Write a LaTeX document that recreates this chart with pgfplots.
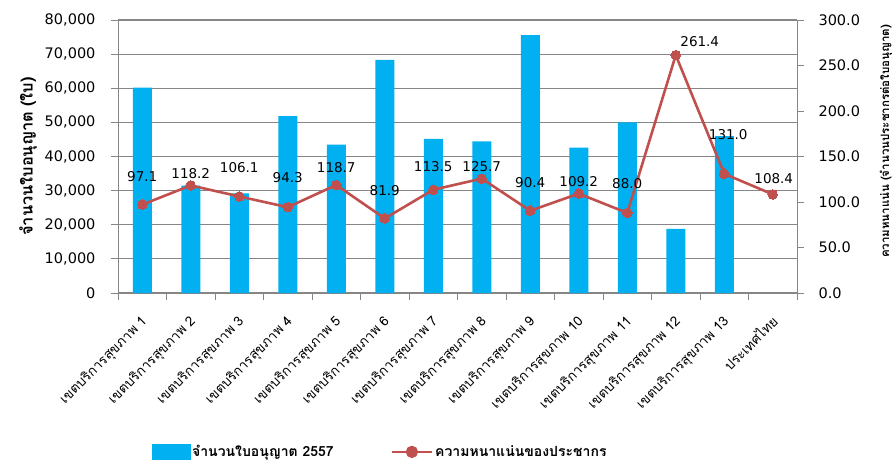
\documentclass[border=0pt]{standalone}
\usepackage{pgfplots}
\pgfplotsset{compat=1.18}
\usepackage{pgfplotstable}
\usepackage{fontspec}
\setmainfont{DejaVu Sans}
\newfontfamily\thai[Script=Thai]{Loma}
\definecolor{barc}{HTML}{00B0F0}
\definecolor{linec}{HTML}{C0504D}
\definecolor{axc}{HTML}{868686}

\pgfplotstableread{
x lic
0 60200
1 31500
2 29200
3 51850
4 43450
5 68300
6 45200
7 44450
8 75550
9 42600
10 50000
11 18800
12 46000
}\bars

\pgfplotstableread{
x dens dx dy
0 97.1 0 28
1 118.2 0 12
2 106.1 0 29
3 94.3 0 30
4 118.7 0 17
5 81.9 0 28
6 113.5 0 23
7 125.7 0 12
8 90.4 0 28
9 109.2 0 12
10 88.0 0 29
11 261.4 24 14
12 131.0 4 39
13 108.4 1 16
}\dens

\begin{document}
\begin{tikzpicture}
\begin{axis}[
  scale only axis, width=679pt, height=273pt,
  at={(118pt,174pt)}, anchor=south west,
  xmin=-0.5, xmax=13.5, ymin=0, ymax=80000,
  axis y line*=left, axis x line*=bottom,
  axis line style={axc, line width=1pt},
  tick style={axc, line width=1pt},
  tick align=outside, major tick length=7pt,
  ymajorgrids, grid style={axc, line width=1.1pt},
  ytick={0,10000,...,80000},
  scaled y ticks=false,
  yticklabel style={font=\fontsize{14.5}{16}\selectfont, xshift=-12pt, /pgf/number format/.cd, 1000 sep={,}, assume math mode=true},
  xtick={-0.5,0.5,...,13.5},
  x tick label as interval,
  xticklabels={เขตบริการสุขภาพ 1,เขตบริการสุขภาพ 2,เขตบริการสุขภาพ 3,เขตบริการสุขภาพ 4,เขตบริการสุขภาพ 5,เขตบริการสุขภาพ 6,เขตบริการสุขภาพ 7,เขตบริการสุขภาพ 8,เขตบริการสุขภาพ 9,เขตบริการสุขภาพ 10,เขตบริการสุขภาพ 11,เขตบริการสุขภาพ 12,เขตบริการสุขภาพ 13,ประเทศไทย},
  xticklabel style={font=\thai\fontsize{13.5}{15}\selectfont, rotate=45, anchor=north east, inner sep=1pt, xshift=-10.8pt, yshift=-7.3pt},
  ylabel={\thai\bfseries จำนวนใบอนุญาต (ใบ)},
  ylabel style={at={(axis description cs:-0.1325,0.5)}, anchor=center, font=\fontsize{16.4}{18}\selectfont},
]
\addplot[ybar, bar width=19pt, fill=barc, draw=none] table[x=x, y=lic] {\bars};
\end{axis}
\begin{axis}[
  scale only axis, width=679pt, height=273pt,
  at={(118pt,174pt)}, anchor=south west,
  xmin=-0.5, xmax=13.5, ymin=0, ymax=300,
  axis y line*=right, axis x line=none,
  axis line style={axc, line width=1pt},
  tick style={axc, line width=1pt},
  tick align=outside, major tick length=7pt,
  ytick={0,50,...,300},
  yticklabel style={font=\fontsize{14.5}{16}\selectfont, xshift=11pt, /pgf/number format/.cd, fixed, fixed zerofill, precision=1, assume math mode=true},
  ylabel={\thai\bfseries ความหนาแน่น (จำนวนประชากรต่อใบอนุญาต)},
  ylabel style={at={(axis description cs:1.131,0.555)}, anchor=center, font=\fontsize{11.5}{13}\selectfont},
  legend columns=2,
  legend style={at={(axis description cs:0.386,-0.582)}, anchor=center, draw=none, fill=none,
    font=\thai\bfseries\fontsize{14}{16}\selectfont,
    /tikz/every even column/.append style={column sep=55pt}},
]
\addlegendimage{legend image code/.code={\fill[barc] (0pt,-7pt) rectangle (38pt,8pt);}}
\addlegendentry{จำนวนใบอนุญาต 2557}
\addplot[linec, line width=2.6pt, mark=*, mark size=4.8pt, mark options={fill=linec, draw=linec, line width=0pt},
  visualization depends on={\thisrow{dx}\as\dx},
  visualization depends on={\thisrow{dy}\as\dy},
  nodes near coords={\pgfmathprintnumber[fixed, fixed zerofill, precision=1, assume math mode=true]{\pgfplotspointmeta}},
  point meta=y,
  nodes near coords style={anchor=center, xshift=\dx pt, yshift=\dy pt, black, font=\fontsize{13.5}{15}\selectfont},
  legend image code/.code={\draw[linec, line width=2.6pt] (0pt,0pt) -- (40pt,0pt); \fill[linec] (20pt,0pt) circle (4.8pt);}
] table[x=x, y=dens] {\dens};
\addlegendentry{ความหนาแน่นของประชากร}
\end{axis}
\pgfresetboundingbox
\useasboundingbox (0,0) rectangle (896pt,467pt);
\end{tikzpicture}
\end{document}
